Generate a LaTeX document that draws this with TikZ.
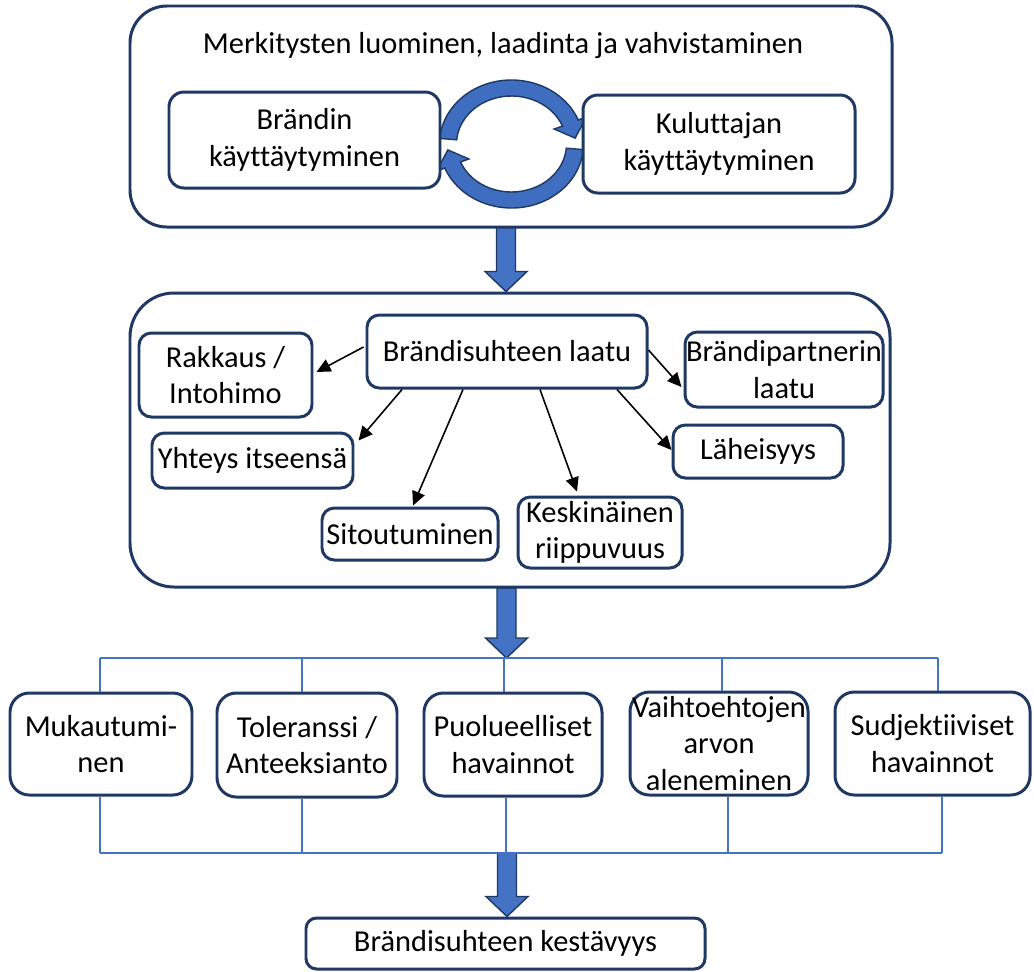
\documentclass[tikz,border=0pt]{standalone}
\usepackage{fontspec}
\setmainfont{Carlito}[Ligatures=CommonOff]
\usetikzlibrary{arrows.meta,calc,backgrounds}
\definecolor{navy}{HTML}{1F3864}
\definecolor{ablue}{HTML}{4472C4}
\definecolor{rblue}{HTML}{3F6DBF}
\newcommand{\fatarrow}[2]{%
  \filldraw[fat] ($(#1)+(-9.5,0)$) -- ($(#2)+(-9.5,-20)$) -- ($(#2)+(-21,-20)$) -- (#2)
    -- ($(#2)+(21,-20)$) -- ($(#2)+(9.5,-20)$) -- ($(#1)+(9.5,0)$) -- cycle;}
\begin{document}
\begin{tikzpicture}[x=0.02cm,y=-0.02cm,
  every node/.style={font=\fontsize{17.3}{20.8}\selectfont, text=black},
  box/.style={draw=navy, line width=1.7pt, fill=white, align=center, inner sep=0pt, rounded corners=#1},
  box/.default=8pt,
  sz/.style 2 args={minimum width=#1*0.02cm, minimum height=#2*0.02cm},
  blk/.style={-{Triangle[length=8pt,width=7.5pt]}, line width=0.9pt},
  bus/.style={draw=ablue, line width=1.1pt},
  fat/.style={fill=ablue, draw=navy, line width=0.8pt, line join=miter},
  ring/.style={fill=rblue, draw=navy, line width=0.8pt}]
\useasboundingbox (0,0) rectangle (1034,971);

% top group
\node[box=21pt, fill=none, sz={762}{221}] (top) at (511,116.5) {};
\node (title) at (503,46) {Merkitysten luominen, laadinta ja vahvistaminen};
\node[box=8.5pt, sz={271}{96}] (brandin) at (304.5,140) {Brändin\\käyttäytyminen};
\node[box=8.5pt, sz={272}{98}] (kulut) at (719,144) {Kuluttajan\\käyttäytyminen};

% middle group
\node[box=25pt, fill=none, sz={760}{294}] (mid) at (510,440) {};
\node[box=7pt, sz={280}{73}] (laatu) at (507,351.5) {Brändisuhteen laatu};
\node[box=7pt, sz={173}{84}] (rakkaus) at (225.5,375) {Rakkaus /\\Intohimo};
\node[box=7pt, sz={201}{55}] (yhteys) at (252.5,460.5) {Yhteys itseensä};
\node[box=7pt, sz={176}{52}] (sitout) at (410,534) {Sitoutuminen};
\node[box=7pt, sz={164}{71}] (keskin) at (600,532.5) {Keskinäinen\\riippuvuus};
\node[box=7pt, sz={198}{75}] (partner) at (784,369.5) {Brändipartnerin\\laatu};
\node[box=7pt, sz={170}{53}] (lah) at (758,451.5) {Läheisyys};

\draw[blk] ($(laatu.west)+(-2,-4.5)$) -- ($(rakkaus.east)+(3,-3)$);
\draw[blk] ($(laatu.south)+(-105,0)$) -- ($(yhteys.north east)+(4,9)$);
\draw[blk] ($(laatu.south)+(-44,0)$) -- ($(sitout.north)+(3,-1)$);
\draw[blk] ($(laatu.south)+(33,0)$) -- ($(keskin.north)+(-23,-4)$);
\draw[blk] ($(laatu.south)+(110,0)$) -- ($(lah.west)+(0,-1.5)$);
\draw[blk] ($(laatu.east)+(0,-1.5)$) -- ($(partner.west)+(-2,17.5)$);

% bottom row
\node[box=11pt, sz={182}{102}] (muk) at (101,744) {Mukautumi-\\nen};
\node[box=11pt, sz={180}{104}] (tol) at (307,745) {Toleranssi /\\Anteeksianto};
\node[box=11pt, sz={178}{103}] (puol) at (513,744.5) {Puolueelliset\\havainnot};
\node[box=11pt, sz={178}{103}] (vaiht) at (719,743.5) {Vaihtoehtojen\\arvon\\aleneminen};
\node[box=11pt, sz={195}{103}] (sudj) at (932.5,743.5) {Sudjektiiviset\\havainnot};

\node[box=6pt, sz={399}{51}] (final) at (505.5,943.5) {Brändisuhteen kestävyys};

% bus lines
\coordinate (t1) at (100,658); \coordinate (t2) at (302,658); \coordinate (t3) at (504,658);
\coordinate (t4) at (722,658); \coordinate (t5) at (938,658);
\coordinate (b1) at (100,853); \coordinate (b2) at (302,853); \coordinate (b3) at (506,853);
\coordinate (b4) at (728,853); \coordinate (b5) at (942,853);
\draw[bus] (t1) -- (t5);
\draw[bus] (b1) -- (b5);
\foreach \n/\k in {muk/1,tol/2,puol/3,vaiht/4,sudj/5}{
  \draw[bus] (t\k) -- (t\k |- \n.north);
  \draw[bus] (b\k) -- (b\k |- \n.south);
}

% fat arrows and cycle on background
\coordinate (a1s) at (506,227); \coordinate (a1t) at (a1s |- mid.north);
\coordinate (a2s) at (506.5,588); \coordinate (a2t) at (a2s |- t3);
\coordinate (a3s) at (507,853); \coordinate (a3t) at (a3s |- final.north);
\coordinate (c) at (511.5,144);
\begin{pgfonlayer}{background}
  \fill[white] (0,0) rectangle (1034,971);
  \fatarrow{a1s}{a1t}
  \fatarrow{a2s}{a2t}
  \fatarrow{a3s}{a3t}
  \filldraw[ring] ($(c)+(185:72 and 64)$) arc[start angle=185,end angle=338,x radius=72,y radius=64]
    -- ($(c)+(338:81 and 73)$) -- ($(c)+(354:64 and 56.5)$) -- ($(c)+(338:46 and 40)$)
    -- ($(c)+(338:55 and 48)$) arc[start angle=338,end angle=185,x radius=55,y radius=48] -- cycle;
  \filldraw[ring] ($(c)+(5:72 and 64)$) arc[start angle=5,end angle=158,x radius=72,y radius=64]
    -- ($(c)+(158:81 and 73)$) -- ($(c)+(174:64 and 56.5)$) -- ($(c)+(158:46 and 40)$)
    -- ($(c)+(158:55 and 48)$) arc[start angle=158,end angle=5,x radius=55,y radius=48] -- cycle;
\end{pgfonlayer}
\end{tikzpicture}
\end{document}
